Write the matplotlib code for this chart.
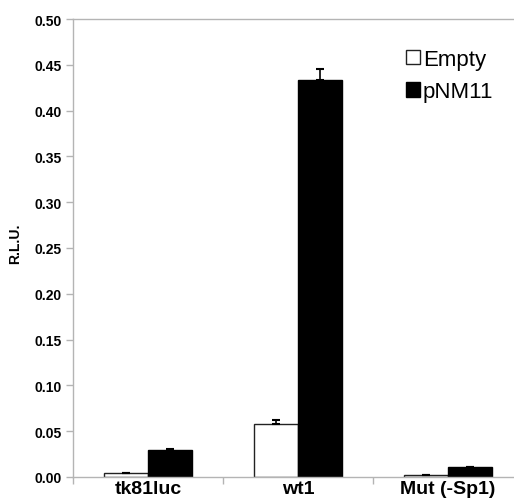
import numpy as np
import matplotlib.pyplot as plt
from matplotlib.ticker import MultipleLocator, FixedLocator

plt.rcParams['font.family'] = ['Liberation Sans', 'DejaVu Sans']

categories = ["tk81luc", "wt1", "Mut (-Sp1)"]
empty_vals = [0.0047, 0.058, 0.002]
pnm11_vals = [0.0299, 0.433, 0.0106]
empty_err = [0.0, 0.0044, 0.0]
pnm11_err = [0.0011, 0.012, 0.0]

x = np.arange(len(categories))
w = 0.294
grey = "#b4b4b4"

fig = plt.figure(figsize=(5.14, 5.02), dpi=100)
ax = fig.add_axes([73 / 514, 24 / 502, 450 / 514, 458 / 502])

ax.bar(x - w / 2, empty_vals, w, color="white", edgecolor="#222222", linewidth=1.0,
       label="Empty", zorder=2)
ax.bar(x + w / 2, pnm11_vals, w, color="black", edgecolor="black", linewidth=1.0,
       label="pNM11", zorder=2)
ax.errorbar(x - w / 2, empty_vals, yerr=[np.zeros(3), empty_err], fmt="none",
            ecolor="black", elinewidth=1.2, capsize=3.2, capthick=1.5, zorder=3)
ax.errorbar(x + w / 2, pnm11_vals, yerr=[np.zeros(3), pnm11_err], fmt="none",
            ecolor="black", elinewidth=1.2, capsize=3.2, capthick=1.5, zorder=3)

ax.set_xlim(-0.5, 2.5)
ax.set_ylim(0, 0.5)
ax.yaxis.set_major_locator(MultipleLocator(0.05))
ax.set_yticklabels([f"{v:.2f}" for v in ax.get_yticks()], fontsize=10, fontweight="bold")
ax.set_xticks(x)
ax.set_xticklabels(categories, fontsize=14, fontweight="bold")
ax.xaxis.set_minor_locator(FixedLocator([-0.5, 0.5, 1.5, 2.5]))
ax.tick_params(axis="x", which="major", length=0, pad=2)
ax.tick_params(axis="x", which="minor", length=5, color=grey, width=1)
ax.tick_params(axis="y", length=5, color=grey, width=1, pad=3)

for side in ["left", "bottom", "top"]:
    ax.spines[side].set_color(grey)
    ax.spines[side].set_linewidth(1)
ax.spines["right"].set_visible(False)

ax.set_ylabel("R.L.U.", fontsize=10, fontweight="bold")
ax.yaxis.set_label_coords(-0.112, 0.511)

ax.legend(loc="upper left", bbox_to_anchor=(406 / 514, 1 - 50 / 502),
          bbox_transform=fig.transFigure, frameon=False, fontsize=16,
          borderpad=0, borderaxespad=0,
          handlelength=0.63, handleheight=0.63, handletextpad=0.12, labelspacing=0.5)

fig.savefig("out.png", dpi=100)
